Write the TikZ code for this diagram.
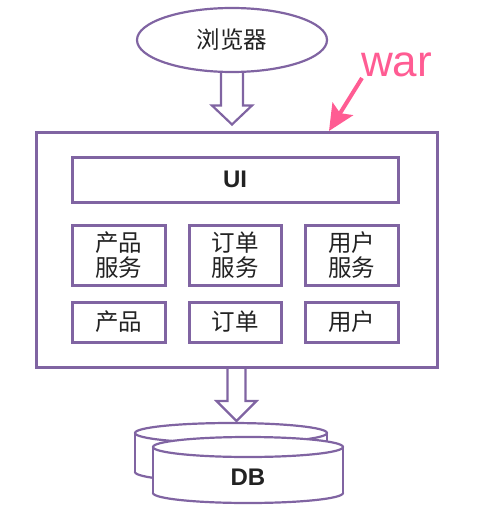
\documentclass[tikz,border=0pt]{standalone}
\usepackage{fontspec}
\setmainfont{Liberation Sans}
\newfontfamily\cjk{Noto Sans CJK SC}
\usetikzlibrary{shapes.geometric,calc,arrows.meta}
\definecolor{pur}{HTML}{8064A2}
\definecolor{pinkc}{RGB}{255,92,147}
\definecolor{txt}{HTML}{222222}
\newcommand\blockarrow[5]{%
  \draw[blk] ($(#1)+(-#3,0)$) -- ($(#2)+(-#3,-#5)$) -- ($(#2)+(-#4,-#5)$) -- (#2)
    -- ($(#2)+(#4,-#5)$) -- ($(#2)+(#3,-#5)$) -- ($(#1)+(#3,0)$);}
\begin{document}
\begin{tikzpicture}[x=1pt,y=-1pt,
  box/.style={draw=pur,line width=3pt,rectangle,inner sep=0pt,text=txt,
    font=\cjk\fontsize{23.5}{25}\selectfont,align=center},
  lat/.style={text=txt,font=\bfseries\fontsize{24}{28}\selectfont},
  blk/.style={draw=pur,line width=2.2pt,line join=miter},
  cyl/.style={draw=pur,line width=2.2pt}]
\useasboundingbox (0,0) rectangle (477,516);
% browser
\node[ellipse,draw=pur,line width=2.2pt,minimum width=190pt,minimum height=64pt,
  inner sep=0pt,text=txt,font=\cjk\fontsize{23.5}{25}\selectfont] (browser) at (232,40) {浏览器};
% war container
\node[box,minimum width=401pt,minimum height=235pt] (war) at (236.5,249.5) {};
\node[box,lat,minimum width=326pt,minimum height=45pt] (ui) at (235,179.5) {UI};
\node[box,minimum width=93pt,minimum height=60pt] (ps) at (118.5,255) {产品\\服务};
\node[box,minimum width=92pt,minimum height=60pt] (os) at (235,255) {订单\\服务};
\node[box,minimum width=93pt,minimum height=60pt] (us) at (351.5,255) {用户\\服务};
\node[box,minimum width=93pt,minimum height=40pt] (p) at (118.5,322) {产品};
\node[box,minimum width=92pt,minimum height=40pt] (o) at (235,322) {订单};
\node[box,minimum width=93pt,minimum height=40pt] (u) at (351.5,322) {用户};
% war label
\node[anchor=base west,inner sep=0pt,text=pinkc,font=\fontsize{44}{50}\selectfont] (wartxt) at (361,77) {war};
\coordinate (wartip) at (329,131);
\draw[pinkc,line width=4pt,-{Stealth[length=26pt,width=24pt,inset=5pt]}] ($(wartxt.base west)+(1,1)$) -- (wartip);
% DB cylinders
\draw[cyl,fill=white] (231,472) ellipse [x radius=96,y radius=10];
\fill[white] (135,433) rectangle (327,472);
\draw[cyl] (135,433) -- (135,472) (327,433) -- (327,472);
\draw[cyl,fill=white] (231,433) ellipse [x radius=96,y radius=10];
\draw[cyl,fill=white] (248,493) ellipse [x radius=95,y radius=10];
\fill[white] (153,447) rectangle (343,493);
\draw[cyl] (153,447) -- (153,493) (343,447) -- (343,493);
\draw[cyl,fill=white] (248,447) ellipse [x radius=95,y radius=10];
\node[lat] (db) at (248,477) {DB};
\coordinate (dbtop) at (236.5,421);
% block arrows
\coordinate (a1end) at ($(browser.south |- war.north)+(0,-6)$);
\blockarrow{browser.south}{a1end}{11}{20}{19}
\blockarrow{war.south}{dbtop}{9}{20}{20}
\end{tikzpicture}
\end{document}
